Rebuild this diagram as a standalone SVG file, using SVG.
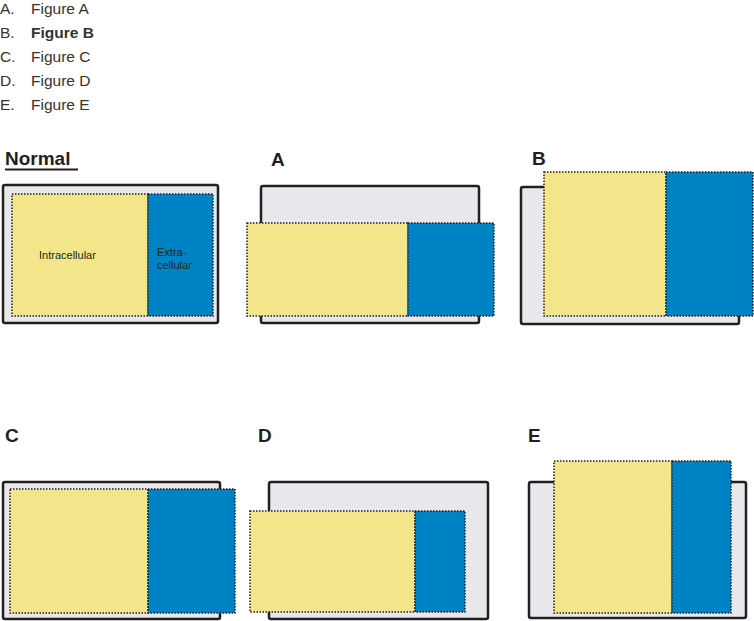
<svg xmlns="http://www.w3.org/2000/svg" width="754" height="621" viewBox="0 0 754 621">
<style>
.leg{font-family:"Liberation Sans",Arial,sans-serif;font-size:15.5px;fill:#333}
.lab{font-family:"Liberation Sans",Arial,sans-serif;font-size:19px;font-weight:bold;fill:#231f20}
.small{font-family:"Liberation Sans",Arial,sans-serif;font-size:11px;fill:#231f20}
.outer{fill:#e8e8ec;stroke:#231f20;stroke-width:2.5}
.ic{fill:#f3e68a;stroke:#231f20;stroke-width:1.5;stroke-dasharray:1.5 1.5}
.ec{fill:#0083c4;stroke:#231f20;stroke-width:1.5;stroke-dasharray:1.5 1.5}
</style>
<rect width="754" height="621" fill="#fff"/>
<g id="legend">
<text class="leg" x="0" y="14">A.</text><text class="leg" x="31" y="14">Figure A</text>
<text class="leg" x="0" y="38">B.</text><text class="leg" x="31" y="38" font-weight="bold">Figure B</text>
<text class="leg" x="0" y="62">C.</text><text class="leg" x="31" y="62">Figure C</text>
<text class="leg" x="0" y="86">D.</text><text class="leg" x="31" y="86">Figure D</text>
<text class="leg" x="0" y="110">E.</text><text class="leg" x="31" y="110">Figure E</text>
</g>
<g id="normal">
<text class="lab" x="5" y="165" font-size="21">Normal</text>
<rect x="5" y="168.5" width="73" height="2" fill="#231f20"/>
<rect class="outer" x="3" y="185" width="215" height="138" rx="2"/>
<rect class="ic" x="12" y="194" width="136" height="122"/>
<rect class="ec" x="148" y="194" width="65" height="122"/>
<text class="small" x="39" y="259">Intracellular</text>
<text class="small" x="157" y="256">Extra-</text>
<text class="small" x="157" y="269">cellular</text>
</g>
<g id="figA">
<text class="lab" x="271" y="166">A</text>
<rect class="outer" x="261" y="186" width="218" height="137" rx="2"/>
<rect class="ic" x="247" y="223" width="161" height="93"/>
<rect class="ec" x="408" y="223" width="86" height="93"/>
</g>
<g id="figB">
<text class="lab" x="532" y="165">B</text>
<rect class="outer" x="521" y="187" width="218" height="137" rx="2"/>
<rect class="ic" x="544" y="172" width="122" height="144"/>
<rect class="ec" x="666" y="172" width="87" height="144"/>
</g>
<g id="figC">
<text class="lab" x="5" y="442">C</text>
<rect class="outer" x="3" y="482" width="217" height="137" rx="2"/>
<rect class="ic" x="10" y="489" width="138" height="124"/>
<rect class="ec" x="148" y="489" width="87" height="124"/>
</g>
<g id="figD">
<text class="lab" x="258" y="442">D</text>
<rect class="outer" x="269" y="482" width="219" height="137" rx="2"/>
<rect class="ic" x="250" y="511" width="165" height="101"/>
<rect class="ec" x="415" y="511" width="50" height="101"/>
</g>
<g id="figE">
<text class="lab" x="528" y="442">E</text>
<rect class="outer" x="529" y="482" width="217" height="136" rx="2"/>
<rect class="ic" x="554" y="461" width="118" height="152"/>
<rect class="ec" x="672" y="461" width="59" height="152"/>
</g>
</svg>
